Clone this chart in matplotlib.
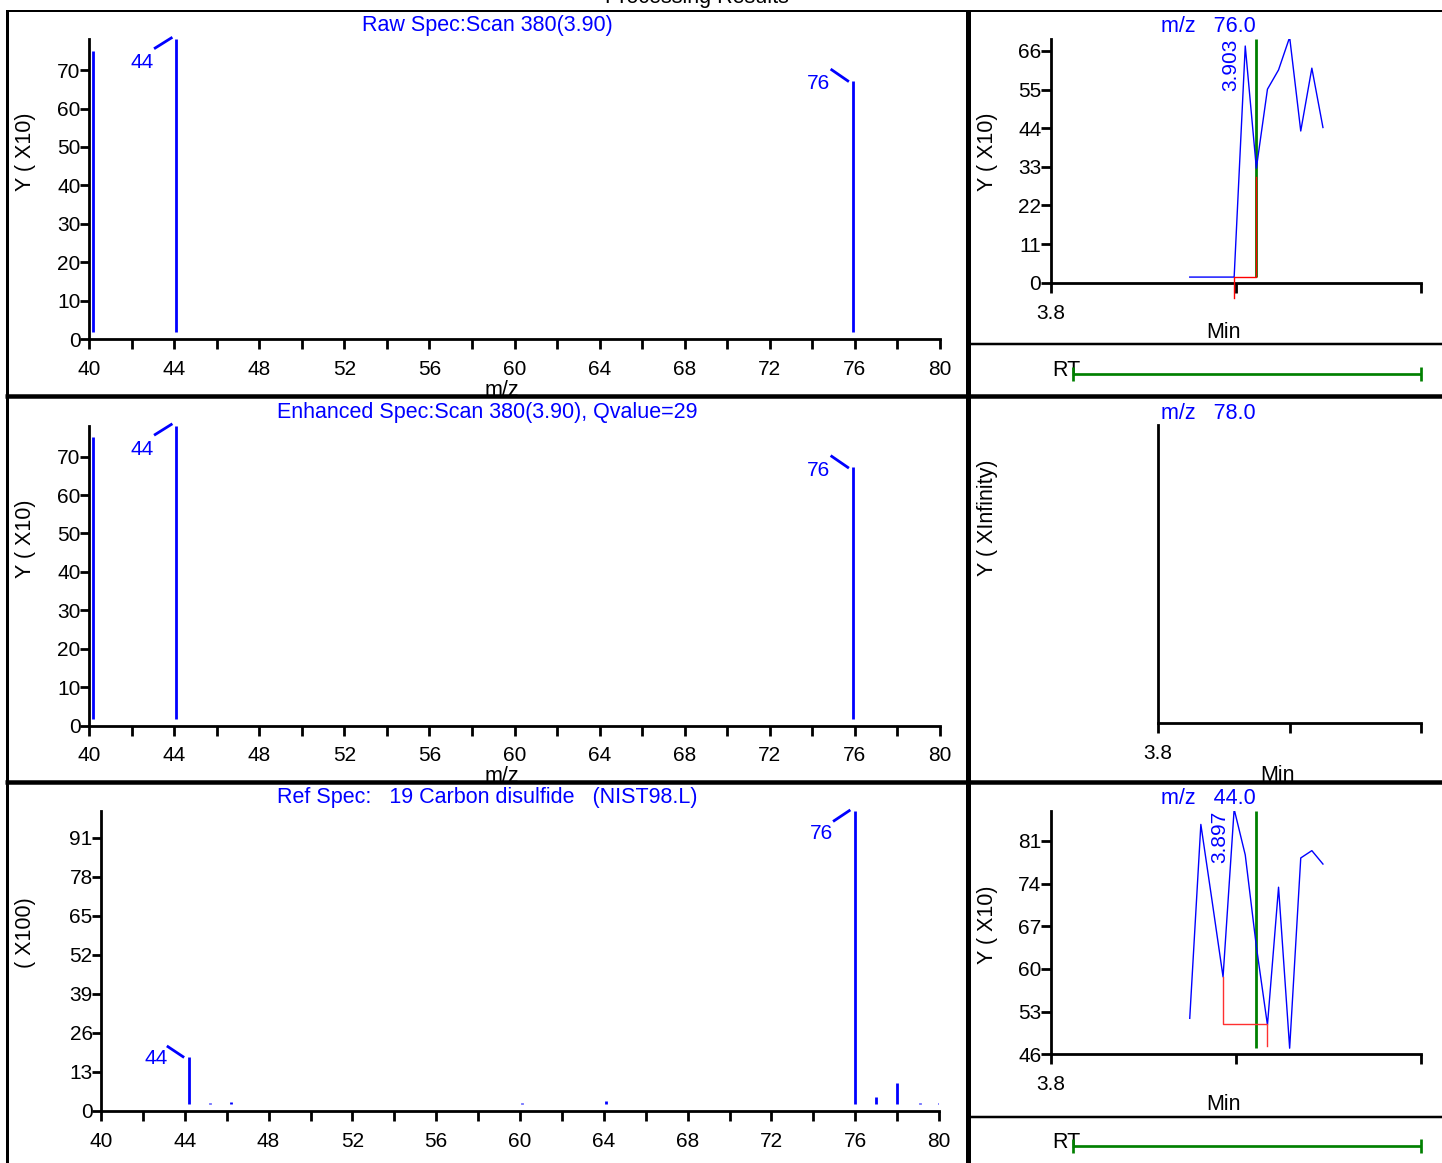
import matplotlib
matplotlib.use('Agg')
import matplotlib.pyplot as plt
from matplotlib.transforms import offset_copy, IdentityTransform
from matplotlib.lines import Line2D
import numpy as np

plt.rcParams['font.family'] = ['Liberation Sans', 'DejaVu Sans']

W, H, DPI = 1442, 1163, 100
BLUE, GREEN, RED = '#0000ff', '#008000', '#ff0000'

# ---------------- data ----------------
fig_title = "Processing Results"

raw_title = "Raw Spec:Scan 380(3.90)"
raw_mz = [40.2, 44.1, 75.9]
raw_int = [75.0, 78.1, 67.2]

enh_title = "Enhanced Spec:Scan 380(3.90), Qvalue=29"
enh_mz = [40.2, 44.1, 75.9]
enh_int = [75.0, 78.1, 67.2]

ref_title = "Ref Spec:   19 Carbon disulfide   (NIST98.L)"
ref_mz = [44.2, 45.2, 46.2, 60.1, 64.1, 76.0, 77.0, 78.0, 79.1, 80.0]
ref_int = [18.0, 2.6, 2.8, 2.5, 3.2, 100.0, 4.7, 9.3, 2.5, 2.5]

spec_xticks = [40, 44, 48, 52, 56, 60, 64, 68, 72, 76, 80]
spec_xminor = [42, 46, 50, 54, 58, 62, 66, 70, 74, 78]
raw_yticks = [0, 10, 20, 30, 40, 50, 60, 70]
ref_yticks = [0, 13, 26, 39, 52, 65, 78, 91]

scan_times = [3.875, 3.881, 3.887, 3.893, 3.899, 3.905, 3.911,
              3.917, 3.923, 3.929, 3.935, 3.941, 3.947]
eic76 = [1.6, 1.6, 1.6, 1.6, 1.6, 67.4, 32.6, 55.1, 60.6, 69.9, 43.2, 61.1, 44.2]
eic44 = [51.9, 83.7, 71.3, 58.7, 86.2, 78.7, 63.7, 50.8, 73.4, 47.0, 78.2, 79.4, 77.2]
eic76_yticks = [0, 11, 22, 33, 44, 55, 66]
eic44_yticks = [46, 53, 60, 67, 74, 81]
chrom_xticks = [3.8, 3.9, 4.0]
chrom_xlabels = ['3.8', '', '']

rt_expected = 3.911
apex76_label = "3.903"
apex44_label = "3.897"
int76_t = [3.899, 3.899, 3.911, 3.911]
int76_y = [-4.3, 1.6, 1.6, 30.2]
int44_t = [3.893, 3.893, 3.917, 3.917]
int44_y = [58.7, 50.9, 50.9, 47.4]

# ---------------- figure ----------------
fig = plt.figure(figsize=(W / DPI, H / DPI), dpi=DPI)
FS = 15


def px_axes(l, t, r, b):
    return fig.add_axes([l / W, 1 - b / H, (r - l) / W, (b - t) / H])


def ftext(x, y, s, **kw):
    kw.setdefault('fontsize', FS)
    return fig.text(x / W, 1 - y / H, s, **kw)


def style(ax, xlen=7.2, ylen=6.5):
    for s in ('top', 'right'):
        ax.spines[s].set_visible(False)
    for s in ('left', 'bottom'):
        ax.spines[s].set_linewidth(2)
    ax.patch.set_alpha(0)
    ax.tick_params(axis='x', which='both', direction='out', length=xlen, width=2,
                   pad=7.8, labelsize=FS)
    ax.tick_params(axis='y', which='both', direction='out', length=ylen, width=2,
                   pad=-0.5, labelsize=FS)


def disp_line(ax, x, y, p0, p1, **kw):
    px, py = ax.transData.transform((x, y))
    fig.add_artist(Line2D([px + p0[0], px + p1[0]], [py + p0[1], py + p1[1]],
                          transform=IdentityTransform(), **kw))


def peak_label(ax, x, y, text, toff, l0, l1):
    tr = offset_copy(ax.transData, fig=fig, x=toff[0], y=toff[1], units='dots')
    ax.text(x, y, text, transform=tr, ha='center', va='center', color=BLUE,
            fontsize=FS, clip_on=False)
    disp_line(ax, x, y, l0, l1, color=BLUE, lw=2)


def spectrum(top, mz, inten, title, ylim, yticks, left, right, bottom, labels):
    ax = px_axes(left, top, right, bottom)
    style(ax)
    ax.set_xlim(40, 80)
    ax.set_ylim(0, ylim)
    ax.set_xticks(spec_xticks)
    ax.set_xticks(spec_xminor, minor=True)
    ax.set_yticks(yticks)
    base = 7 * ylim / (bottom - top)
    ax.vlines(mz, base, inten, color=BLUE, lw=2)
    for (xv, yv, txt, toff, l0, l1) in labels:
        peak_label(ax, xv, yv, txt, toff, l0, l1)
    return ax


# Raw spectrum
spectrum(39, raw_mz, raw_int, raw_title, 78.1, raw_yticks, 89, 940, 339,
         [(raw_mz[1], raw_int[1], '44', (-34, -24), (-5, 1), (-21, -9)),
          (raw_mz[2], raw_int[2], '76', (-34, -3), (-5, 0), (-21, 11))])
ftext(487, 26, raw_title, color=BLUE, ha='center', va='center', fontsize=15.5)
ftext(25, 152, 'Y ( X10)', rotation=90, ha='center', va='center', fontsize=15.5)
ftext(502, 390, 'm/z', ha='center', va='center', fontsize=15.5)

# Enhanced spectrum
D = 386.5
spectrum(39 + D, enh_mz, enh_int, enh_title, 78.1, raw_yticks, 89, 940, 339 + D,
         [(enh_mz[1], enh_int[1], '44', (-34, -24), (-5, 1), (-21, -9)),
          (enh_mz[2], enh_int[2], '76', (-34, -3), (-5, 0), (-21, 11))])
ftext(487, 26 + D, enh_title, color=BLUE, ha='center', va='center', fontsize=15.5)
ftext(25, 152 + D, 'Y ( X10)', rotation=90, ha='center', va='center', fontsize=15.5)
ftext(502, 390 + D, 'm/z', ha='center', va='center', fontsize=15.5)

# Reference spectrum
spectrum(811, ref_mz, ref_int, ref_title, 99.9, ref_yticks, 101, 939, 1110.7,
         [(ref_mz[0], ref_int[0], '44', (-33, -2), (-6, 0), (-21, 10)),
          (ref_mz[5], ref_int[5], '76', (-34, -23), (-6, 0), (-21, -10))])
ftext(487, 798, ref_title, color=BLUE, ha='center', va='center', fontsize=15.5)
ftext(25, 933, '( X100)', rotation=90, ha='center', va='center', fontsize=15.5)


# ---------------- chromatograms ----------------
def chrom(left, top, right, bottom, ylim, yticks):
    ax = px_axes(left, top, right, bottom)
    style(ax, xlen=7.2, ylen=7.5)
    ax.set_xlim(3.8, 4.0)
    ax.set_ylim(*ylim)
    ax.set_xticks(chrom_xticks)
    ax.set_xticklabels(chrom_xlabels)
    ax.set_yticks(yticks)
    return ax


def apex_text(ax, t, s):
    ax.annotate(s, xy=(t, 1.0), xycoords=('data', 'axes fraction'),
                xytext=(-11, 0), textcoords='offset pixels', rotation=90,
                ha='center', va='top', color=BLUE, fontsize=FS)


# m/z 76
ax76 = chrom(1051, 39, 1421, 282.7, (0, 69.4), eic76_yticks)
ax76.vlines(rt_expected, eic76[0], 69.4, color=GREEN, lw=2, zorder=2)
ax76.plot(scan_times, eic76, color=BLUE, lw=1, zorder=3)
ax76.plot(int76_t, int76_y, color=RED, lw=1, zorder=4, clip_on=False)
apex_text(ax76, float(apex76_label), apex76_label)
ftext(1208, 27, 'm/z   76.0', color=BLUE, ha='center', va='center', fontsize=15.5)
ftext(988, 152, 'Y ( X10)', rotation=90, ha='center', va='center', fontsize=15.5)
ftext(1224, 332, 'Min', ha='center', va='center', fontsize=15.5)

# m/z 78
ax78 = chrom(1158, 425, 1421, 723.3, (0, 1), [])
ftext(1208, 413, 'm/z   78.0', color=BLUE, ha='center', va='center', fontsize=15.5)
ftext(988, 518, 'Y ( XInfinity)', rotation=90, ha='center', va='center', fontsize=15.5)
ftext(1278, 781, 'Min', ha='center', va='baseline', fontsize=15.5)

# m/z 44
ax44 = chrom(1051, 811, 1421, 1054.3, (46, 85.9), eic44_yticks)
ax44.vlines(rt_expected, 47.0, 85.9, color=GREEN, lw=2, zorder=2)
ax44.plot(scan_times, eic44, color=BLUE, lw=1, zorder=3)
ax44.plot(int44_t, int44_y, color='#ff3030', lw=1, zorder=4, clip_on=False)
apex_text(ax44, float(apex44_label), apex44_label)
ftext(1208, 798, 'm/z   44.0', color=BLUE, ha='center', va='center', fontsize=15.5)
ftext(988, 925, 'Y ( X10)', rotation=90, ha='center', va='center', fontsize=15.5)
ftext(1224, 1104, 'Min', ha='center', va='center', fontsize=15.5)

# RT boxes
for yc in (370, 1142):
    ftext(1052, yc, 'RT', ha='left', va='center', fontsize=15.5)

ftext(697, 3, fig_title, ha='center', va='baseline', fontsize=15.5)

# ---------------- overlay: frames & RT bars ----------------
ov = fig.add_axes([0, 0, 1, 1], zorder=10)
ov.set_xlim(0, W)
ov.set_ylim(H, 0)
ov.axis('off')
ov.patch.set_alpha(0)
k = 0.72
ov.plot([6, W], [10.5, 10.5], color='black', lw=2 * k, solid_capstyle='butt')
ov.plot([6.5, 6.5], [10, H], color='black', lw=3 * k, solid_capstyle='butt')
ov.plot([968.2, 968.2], [10, H], color='black', lw=5 * k, solid_capstyle='butt')
for yy in (395.7, 781.5):
    ov.plot([5, W], [yy, yy], color='black', lw=4.5 * k, solid_capstyle='butt')
for yy in (344, 1116.7):
    ov.plot([968, W], [yy, yy], color='black', lw=2.5 * k, solid_capstyle='butt')
for yc in (374, 1145.7):
    ov.plot([1073.3, 1421], [yc, yc], color=GREEN, lw=2.7 * k, solid_capstyle='butt')
    for xc in (1073.3, 1421):
        ov.plot([xc, xc], [yc - 7, yc + 7], color=GREEN, lw=2.7 * k, solid_capstyle='butt')

fig.savefig('out.png', dpi=DPI)
